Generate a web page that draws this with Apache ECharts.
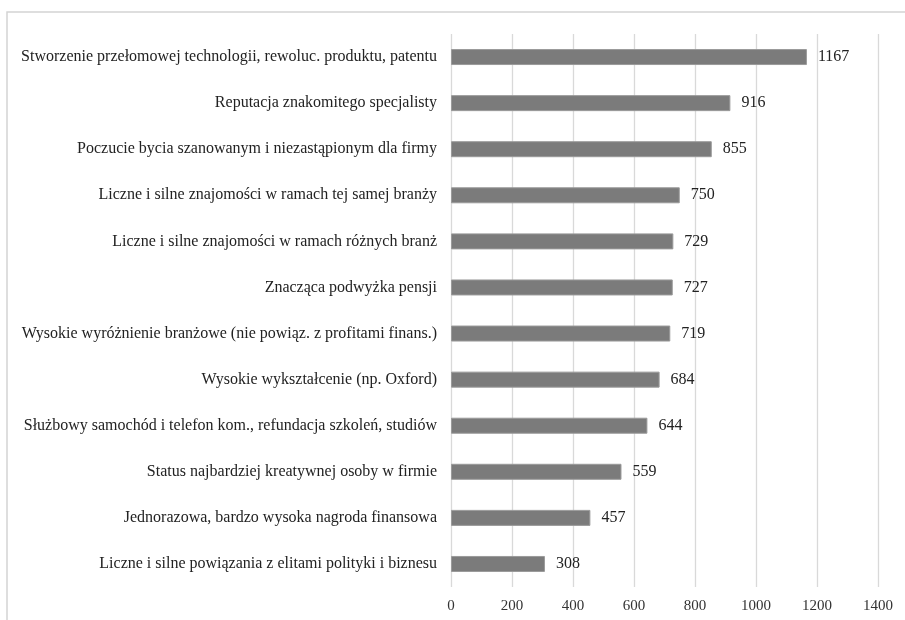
<!DOCTYPE html>
<html>
<head>
<meta charset="utf-8">
<script src="https://cdn.jsdelivr.net/npm/echarts@6/dist/echarts.min.js"></script>
<style>
  html, body { margin: 0; padding: 0; background: #fff; }
  #main { width: 905px; height: 620px; }
</style>
</head>
<body>
<div id="main"></div>
<script>
// kategorie od dołu do góry (oś Y kategorii)
var categories = [
  'Liczne i silne powiązania z elitami polityki i biznesu',
  'Jednorazowa, bardzo wysoka nagroda finansowa',
  'Status najbardziej kreatywnej osoby w firmie',
  'Służbowy samochód i telefon kom., refundacja szkoleń, studiów',
  'Wysokie wykształcenie (np. Oxford)',
  'Wysokie wyróżnienie branżowe (nie powiąz. z profitami finans.)',
  'Znacząca podwyżka pensji',
  'Liczne i silne znajomości w ramach różnych branż',
  'Liczne i silne znajomości w ramach tej samej branży',
  'Poczucie bycia szanowanym i niezastąpionym dla firmy',
  'Reputacja znakomitego specjalisty',
  'Stworzenie przełomowej technologii, rewoluc. produktu, patentu'
];
var values = [308, 457, 559, 644, 684, 719, 727, 729, 750, 855, 916, 1167];
var xTicks = [0, 200, 400, 600, 800, 1000, 1200, 1400];

var font = '"Liberation Serif", "Times New Roman", serif';

var option = {
  backgroundColor: '#fff',
  animation: false,
  graphic: [{
    type: 'rect',
    shape: { x: 7, y: 12, width: 920, height: 640 },
    style: { fill: 'none', stroke: '#d4d4d4', lineWidth: 1.5 },
    silent: true
  }],
  grid: { left: 451, right: 27, top: 34, bottom: 33, containLabel: false },
  xAxis: {
    type: 'value',
    min: xTicks[0],
    max: xTicks[xTicks.length - 1],
    interval: 200,
    axisLine: { show: false },
    axisTick: { show: false },
    splitLine: { show: true, lineStyle: { color: '#d9d9d9', width: 1.3 } },
    axisLabel: {
      color: '#333', fontFamily: font, fontSize: 15, margin: 12,
      formatter: function (v) { return String(v); }
    }
  },
  yAxis: {
    type: 'category',
    data: categories,
    axisLine: { show: false },
    axisTick: { show: false },
    axisLabel: { color: '#222', fontFamily: font, fontSize: 16, margin: 14 }
  },
  series: [{
    type: 'bar',
    data: values,
    barWidth: 16,
    itemStyle: { color: '#7b7b7b', borderColor: '#9a9a9a', borderWidth: 1 },
    label: {
      show: true,
      position: 'right',
      distance: 11,
      color: '#222',
      fontFamily: font,
      fontSize: 16
    }
  }]
};

var myChart = echarts.init(document.getElementById('main'));
myChart.setOption(option);
</script>
</body>
</html>
